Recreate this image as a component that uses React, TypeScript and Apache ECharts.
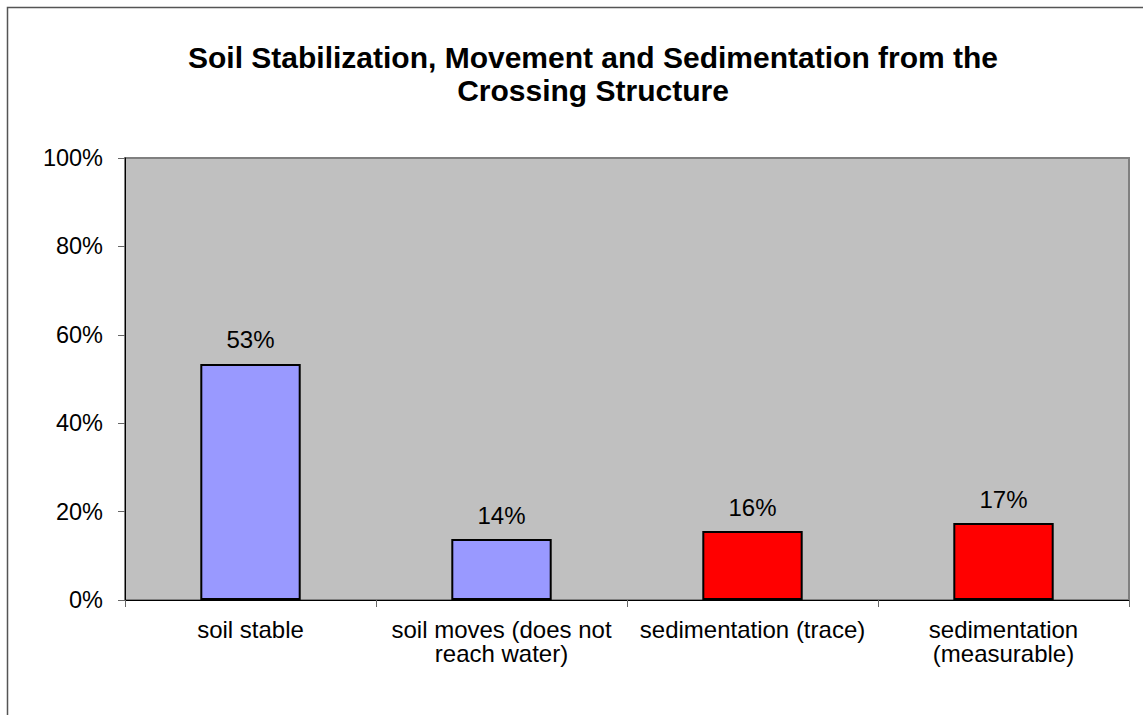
import React, { useEffect, useRef } from "react";
import * as echarts from "echarts";

// Outcome categories and their shares of observed crossings
const categories = [
  "soil stable",
  "soil moves (does not\nreach water)",
  "sedimentation (trace)",
  "sedimentation\n(measurable)",
];
const shares = [0.534, 0.138, 0.156, 0.174];
const barColors = ["#9999FF", "#9999FF", "#FF0000", "#FF0000"];
const titleLines = [
  "Soil Stabilization, Movement and Sedimentation from the",
  "Crossing Structure",
];

const FONT = "Arial, 'Liberation Sans', sans-serif";

export default function App() {
  const ref = useRef<HTMLDivElement>(null);

  useEffect(() => {
    if (!ref.current) return;
    const chart = echarts.init(ref.current, null, { renderer: "svg" });
    chart.setOption({
      animation: false,
      backgroundColor: "#FFFFFF",
      title: {
        text: titleLines.join("\n"),
        left: 588,
        textAlign: "center",
        top: 36,
        textStyle: {
          fontFamily: FONT,
          fontSize: 30,
          fontWeight: "bold",
          color: "#000",
          lineHeight: 33,
        },
      },
      graphic: [
        {
          type: "rect",
          shape: { x: 7.5, y: 7.5, width: 1200, height: 800 },
          style: { fill: "none", stroke: "#555", lineWidth: 1.5 },
          silent: true,
        },
      ],
      grid: {
        left: 125,
        right: 14,
        top: 158,
        bottom: 115,
        show: true,
        backgroundColor: "#C0C0C0",
        borderColor: "#808080",
        borderWidth: 2,
      },
      xAxis: {
        type: "category",
        data: categories,
        axisLine: { show: true, lineStyle: { color: "#000", width: 1 } },
        axisTick: { show: true, length: 7, lineStyle: { color: "#666" } },
        axisLabel: {
          fontFamily: FONT,
          fontSize: 24,
          color: "#000",
          margin: 17,
          lineHeight: 24.5,
          interval: 0,
        },
      },
      yAxis: {
        type: "value",
        min: 0,
        max: 1,
        interval: 0.2,
        splitLine: { show: false },
        axisLine: { show: true, lineStyle: { color: "#000", width: 1 } },
        axisTick: { show: true, length: 7, lineStyle: { color: "#666" } },
        axisLabel: {
          fontFamily: FONT,
          fontSize: 23.5,
          color: "#000",
          margin: 22,
          formatter: (v: number) => `${Math.round(v * 100)}%`,
        },
      },
      series: [
        {
          type: "bar",
          barWidth: "40%",
          data: shares.map((v, i) => ({
            value: v,
            itemStyle: {
              color: barColors[i],
              borderColor: "#000",
              borderWidth: 2,
            },
          })),
          label: {
            show: true,
            position: "top",
            distance: 12,
            fontFamily: FONT,
            fontSize: 24,
            color: "#000",
            formatter: (p: any) => `${Math.round(p.value * 100)}%`,
          },
        },
      ],
    });
    return () => chart.dispose();
  }, []);

  return (
    <div
      ref={ref}
      style={{ position: "fixed", left: 0, top: 0, width: 1143, height: 715 }}
    />
  );
}
